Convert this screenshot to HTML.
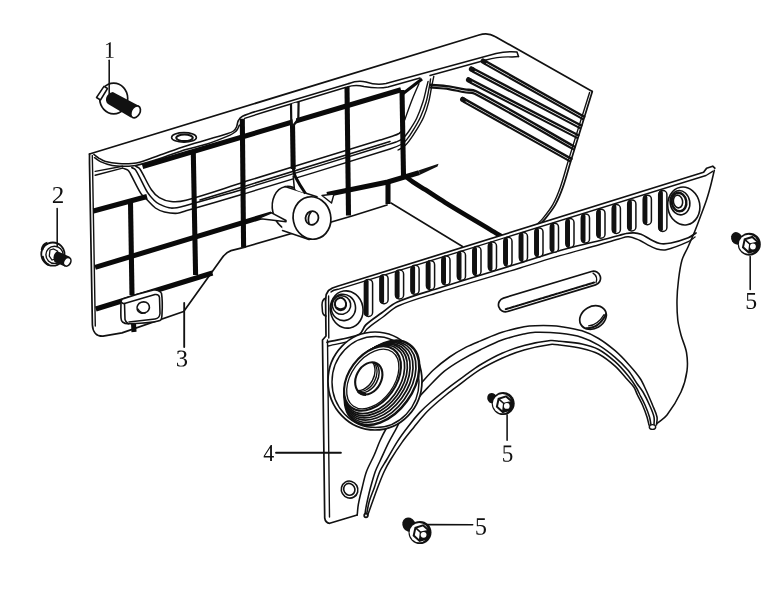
<!DOCTYPE html>
<html><head><meta charset="utf-8"><style>
html,body{margin:0;padding:0;background:#fff;}
svg{display:block;}
.t.w{fill:#fff;}
.t{fill:none;stroke:#111;stroke-linecap:round;stroke-linejoin:round;}
.k{fill:none;stroke:#0a0a0a;stroke-linecap:butt;stroke-linejoin:round;}
text{font-family:"Liberation Serif",serif;font-size:23px;fill:#111;}
</style></head><body>
<svg width="764" height="590" viewBox="0 0 764 590">
<rect width="764" height="590" fill="#fff"/>
<path d="M89.5,154.0 L479.0,35.0 L488.0,33.5 L495.0,36.5 L591.5,91.0 L586.0,118.0 L575.0,155.0 L565.0,181.0 L552.0,208.0 L540.0,235.0 L470.0,258.0 L387.0,205.0 L352.0,216.0 L246.0,246.8 L231.0,250.6 L221.8,258.2 L183.7,311.5 L103.0,336.0 L92.0,330.0 L91.6,325.0" fill="#fff" stroke="none"/>
<path d="M89.5,154 L479,35 C484,33.4 490,33.4 495,36.5 L591.5,91" class="t" style="stroke-width:1.71" />
<path d="M592.3,91.4 C588.7,103.1 585.1,114.7 581.5,126.4 C577.9,138.1 574.3,149.7 570.7,161.4 C568.1,169.9 566.0,178.5 563.0,186.9 C560.9,192.9 558.5,199.0 555.4,204.6 C552.6,209.6 548.9,214.1 545.3,218.6 C543.1,221.3 540.4,223.5 538.0,226.0" class="t" style="stroke-width:1.71" />
<path d="M589.6,92.5 C586.0,103.8 582.4,115.1 578.9,126.4 C575.3,138.1 571.7,149.7 568.1,161.4 C565.5,169.9 563.4,178.5 560.4,186.9 C558.3,192.9 555.9,199.0 552.8,204.6 C550.0,209.6 546.3,214.1 542.7,218.6 C540.5,221.3 537.8,223.5 535.4,226.0" class="t" style="stroke-width:1.4" />
<path d="M89.5,154 L89.5,163 L92.4,325 C92.8,332 96.5,336.5 103,336.2 L122,332.9 L183.7,311.5 L221.8,258.2 C224,255 226.5,252.3 231,250.6 L246,246.8 L352,216 L387,205" class="t" style="stroke-width:1.71" />
<path d="M92.3,155.5 L92.6,170 L95.3,326" class="t" style="stroke-width:1.4" />
<path d="M391,203 L462.5,246.5" class="t" style="stroke-width:1.55" />
<path d="M93.9,154.4 C95.6,155.7 97.3,157.2 99.1,158.3 C101.2,159.6 103.3,161.0 105.6,161.6 C109.8,162.7 114.3,163.3 118.7,163.6 C123.0,163.9 127.5,163.9 131.8,163.6 C134.5,163.4 137.2,163.1 139.7,162.3 C146.6,160.2 153.2,157.4 160.0,155.0 C168.7,152.0 177.3,148.8 186.0,146.0 C199.9,141.6 214.0,137.9 227.9,133.5 C229.8,132.9 231.9,132.2 233.5,131.0 C234.8,130.0 235.8,128.5 236.5,127.0 C237.4,125.0 237.3,122.4 238.4,120.5 C239.3,118.8 240.7,117.0 242.5,116.2 C249.9,112.9 258.1,110.8 266.0,108.4 C293.6,99.9 321.3,91.8 349.0,83.5" class="t" style="stroke-width:1.55" />
<path d="M349,83.5 C354,81.5 360,80.5 366,82 C372,84 379,85 386,83.5 L496,53.6 C505,51.5 512,51.5 517,52 L518.5,56.5" class="t" style="stroke-width:1.55" />
<path d="M94.5,157.7 C96.5,159.0 98.3,160.7 100.4,161.6 C104.2,163.3 108.2,164.8 112.2,165.5 C116.5,166.3 120.9,166.2 125.3,166.2 C128.8,166.2 132.3,166.2 135.7,165.5 C143.9,163.7 152.0,161.1 160.0,158.5 C168.7,155.7 177.2,152.2 186.0,149.5 C192.9,147.4 200.1,146.2 207.0,144.0 C214.8,141.4 222.5,138.3 230.0,135.1 C231.8,134.3 233.5,133.2 235.0,132.0 C235.9,131.3 236.7,130.4 237.3,129.5 C238.2,128.1 238.7,126.6 239.4,125.1" class="t" style="stroke-width:1.55" />
<path d="M244.6,118.3 L266,111.5 L347,87 C353,85 358,85 364,86.5 C372,88 380,88.5 388,87 L420,78" class="t" style="stroke-width:1.4" />
<path d="M430,75.5 L486,60 C495,57.5 505,56.5 512,57 L518.5,56.5" class="t" style="stroke-width:1.4" />
<path d="M95.2,171.4 L122.6,166.2" class="t" style="stroke-width:1.4" />
<path d="M95.2,175.3 L122.6,168.1" class="t" style="stroke-width:1.4" />
<path d="M122.6,168.1 C124.4,168.8 126.5,169.0 127.9,170.1 C129.1,171.0 129.7,172.6 130.5,174.0 C134.1,180.5 137.1,187.5 141.0,193.7 C142.3,195.8 144.5,197.2 146.2,198.9 C149.3,201.9 152.0,205.5 155.4,208.0 C158.1,209.9 161.3,211.2 164.5,212.0 C168.7,213.0 173.3,213.6 177.6,213.3 C180.5,213.1 183.2,211.5 186.0,210.7 C205.7,205.0 225.3,199.3 245.0,193.6" class="t" style="stroke-width:1.55" />
<path d="M131.8,167.5 C133.1,168.4 134.9,168.8 135.7,170.1 C140.1,177.1 143.2,185.2 147.5,192.4 C149.3,195.3 151.6,197.8 154.0,200.2 C155.5,201.7 157.3,203.2 159.3,204.1 C163.0,205.8 167.1,207.9 171.1,208.1 C176.0,208.3 181.1,206.7 186.0,205.4 C205.8,200.2 225.3,194.3 245.0,188.7" class="t" style="stroke-width:1.55" />
<path d="M135.7,166.2 C137.0,167.1 138.8,167.5 139.7,168.8 C144.1,175.3 146.9,183.2 151.4,189.7 C153.5,192.8 156.2,195.7 159.3,197.6 C162.8,199.7 167.1,201.1 171.1,201.5 C176.0,202.0 181.2,201.5 186.0,200.2 C205.8,194.9 225.3,187.9 245.0,181.8" class="t" style="stroke-width:1.55" />
<path d="M245.0,181.6 C290.0,167.7 335.0,153.9 380.0,140.0 C384.3,138.7 388.7,137.5 393.0,136.0 C395.0,135.3 397.1,134.6 399.0,133.5 C400.3,132.7 401.3,131.5 402.5,130.5" class="t" style="stroke-width:1.55" />
<path d="M200,200 L245,186.2 L390,141.5" class="t" style="stroke-width:1.55" />
<path d="M245.0,188.6 C291.7,174.2 338.3,159.9 385.0,145.5 C388.7,144.4 392.4,143.4 396.0,142.0 C398.3,141.1 400.8,140.2 402.7,138.6 C405.2,136.5 407.1,133.7 409.0,131.0 C411.8,126.9 414.6,122.7 416.7,118.3 C419.2,113.0 421.2,107.4 423.0,101.8 C424.6,96.8 425.5,91.6 426.8,86.5 C427.2,84.8 427.7,83.1 428.1,81.4" class="t" style="stroke-width:1.4" />
<path d="M245.0,193.6 C293.3,178.7 341.8,164.2 390.0,149.0 C393.8,147.8 397.6,146.4 401.0,144.5 C403.1,143.4 405.0,141.7 406.5,139.9 C409.1,136.8 411.4,133.2 413.5,129.7 C416.0,125.6 418.5,121.4 420.5,117.0 C422.7,112.1 424.7,107.0 426.2,101.8 C427.7,96.8 428.4,91.6 429.4,86.5 C429.9,84.0 430.2,81.4 430.6,78.9" class="t" style="stroke-width:1.4" />
<path d="M398.0,150.0 C400.0,148.8 402.2,147.9 404.0,146.5 C405.9,145.0 407.5,143.1 409.0,141.1 C411.8,137.5 414.3,133.6 416.7,129.7 C419.2,125.6 421.8,121.4 423.7,117.0 C425.8,112.1 427.4,107.0 428.7,101.8 C430.1,96.4 430.8,90.7 431.9,85.2 C432.5,82.3 433.2,79.3 433.8,76.4" class="t" style="stroke-width:1.4" />
<path d="M404.7,120.0 C407.1,113.3 409.4,106.6 412.0,100.0 C414.1,94.5 416.6,89.1 418.9,83.7" class="t" style="stroke-width:1.4" />
<path d="M401.5,94.7 L422,79" class="k" style="stroke-width:3.12" />
<ellipse cx="184" cy="137.4" rx="12.4" ry="4.8" class="t" style="stroke-width:1.59"/>
<ellipse cx="184.5" cy="137.8" rx="8.3" ry="3.3" class="t" style="stroke-width:2.1"/>
<path d="M142.5,166.5 L401,89.7" class="k" style="stroke-width:5.07" />
<path d="M93.5,211 L147,196.5" class="k" style="stroke-width:5.07" />
<path d="M95.1,267.4 L271.6,213.9" class="k" style="stroke-width:5.07" />
<path d="M327,194.5 L387.8,182 L419.2,172.6" class="k" style="stroke-width:5.07" />
<path d="M419,170.2 L438.5,163.8 L437.5,166.5 L419.5,175 Z" fill="#111"/>
<path d="M95.8,309 L212.5,273" class="k" style="stroke-width:5.07" />
<path d="M130.5,202.5 L132,295" class="k" style="stroke-width:5.07" />
<path d="M133.5,323 L134,332" class="k" style="stroke-width:5.07" />
<path d="M193.3,153 L195.6,275" class="k" style="stroke-width:5.07" />
<path d="M242.3,118.8 L243.6,247" class="k" style="stroke-width:5.07" />
<path d="M292.5,124 L293.2,169" class="k" style="stroke-width:5.07" />
<path d="M291.5,104 L296.5,102.5 L296,122 L293,126 Z" fill="#fff"/>
<path d="M291,104 L291.3,124 L292.6,126.5" fill="none" stroke="#111" stroke-width="2.2"/>
<path d="M298.6,102 L298.3,119 L293,126" fill="none" stroke="#111" stroke-width="2.2"/>
<path d="M347,87 L348.5,215.5" class="k" style="stroke-width:5.07" />
<path d="M388,180 L388,204" class="k" style="stroke-width:5.07" />
<path d="M402,90 L403.5,176" class="k" style="stroke-width:5.07" />
<path d="M403.5,174.9 C406.7,177.3 409.7,179.8 413.0,182.0 C417.1,184.8 421.4,187.2 425.5,189.8 C432.0,194.0 438.4,198.4 445.0,202.4 C459.9,211.6 475.0,220.4 490.0,229.4 C494.7,232.2 499.3,235.1 504.0,238.0" class="k" style="stroke-width:4.68" />
<path d="M483.0,59.7 L584.3,116.7" stroke="#111" stroke-width="2.4" fill="none" stroke-linecap="round"/>
<path d="M484.7,63.9 L582.9,119.2" stroke="#111" stroke-width="2.1" fill="none" stroke-linecap="round"/>
<ellipse cx="483.7" cy="61.5" rx="3.2" ry="2.6" transform="rotate(29.4 483.7 61.5)" fill="#111"/>
<path d="M471.2,67.5 L581.3,125.5" stroke="#111" stroke-width="2.4" fill="none" stroke-linecap="round"/>
<path d="M473.0,71.7 L580.0,128.1" stroke="#111" stroke-width="2.1" fill="none" stroke-linecap="round"/>
<ellipse cx="471.9" cy="69.4" rx="3.2" ry="2.6" transform="rotate(27.8 471.9 69.4)" fill="#111"/>
<path d="M468.3,78.3 L578.4,135.3" stroke="#111" stroke-width="2.4" fill="none" stroke-linecap="round"/>
<path d="M470.1,82.5 L577.1,137.9" stroke="#111" stroke-width="2.1" fill="none" stroke-linecap="round"/>
<ellipse cx="469.0" cy="80.2" rx="3.2" ry="2.6" transform="rotate(27.4 469.0 80.2)" fill="#111"/>
<path d="M430.0,84.8 C436.3,85.3 442.6,85.5 448.8,86.4 C454.1,87.1 459.3,88.5 464.6,89.4 C468.4,90.1 472.7,89.4 476.1,91.2 C509.7,108.6 542.3,128.5 575.4,147.2" stroke="#111" stroke-width="2.4" fill="none"/>
<path d="M430.0,87.4 C436.3,88.0 442.6,88.2 448.8,89.1 C454.1,89.9 459.3,91.4 464.6,92.3 C467.9,92.9 471.7,92.1 474.7,93.7 C508.2,111.3 540.9,131.0 574.0,149.7" stroke="#111" stroke-width="2.1" fill="none"/>
<path d="M462.4,97.9 L571.5,158.9" stroke="#111" stroke-width="2.4" fill="none" stroke-linecap="round"/>
<path d="M464.1,102.1 L570.1,161.4" stroke="#111" stroke-width="2.1" fill="none" stroke-linecap="round"/>
<ellipse cx="463.1" cy="99.7" rx="3.2" ry="2.6" transform="rotate(29.2 463.1 99.7)" fill="#111"/>
<ellipse cx="289.5" cy="208.5" rx="17" ry="22.3" transform="rotate(-12 289.5 208.5)" class="t w" style="stroke-width:1.6"/>
<path d="M286,186.5 L318,196.5 L312,240 L282,230.5 Z" fill="#fff" stroke="none"/>
<path d="M285,186.6 L317,196.8" class="t" style="stroke-width:1.55" />
<path d="M282.5,230.5 L309,239.6" class="t" style="stroke-width:1.55" />
<ellipse cx="312" cy="218" rx="18.8" ry="21.3" transform="rotate(-12 312 218)" class="t w" style="stroke-width:1.7"/>
<ellipse cx="312" cy="218" rx="6.4" ry="6.9" transform="rotate(25 312 218)" class="t w" style="stroke-width:1.8"/>
<path d="M309,223.5 Q307,217 311,212" class="t" style="stroke-width:1.74"/>
<path d="M292.5,160 C293,168 294,174 295,176 C297,180 301,187 305.5,193.5 L296,190 L294.5,187.5 Z" fill="#fff"/>
<path d="M293,165 C293.5,170 294,174 295.5,177 C297.5,181 301,187 305.5,193.5" class="k" style="stroke-width:2.92" />
<path d="M293.2,176 L294.3,188" class="t" style="stroke-width:1.55" />
<path d="M258.6,218.4 L271.6,212.8 L286,220.5 L286,221.8 Z" class="t w" style="stroke-width:1.5"/>
<path d="M322,195.5 L334,194 L331.5,203 Z" class="t w" style="stroke-width:1.4"/>
<path d="M121.0,301.5 C121.5,300.7 121.6,299.3 122.5,299.0 C132.5,295.5 143.2,292.5 153.6,290.0 C155.0,289.7 156.7,289.9 158.0,290.5 C159.3,291.1 161.3,292.1 161.5,293.5 C162.6,299.9 162.4,307.2 162.0,314.0 C161.9,316.2 162.0,319.8 160.0,320.4 C150.8,323.1 138.9,323.4 128.4,323.8 C126.4,323.9 124.0,323.1 122.5,322.0 C121.5,321.2 121.1,319.4 121.0,318.0 C120.6,312.6 121.0,307.0 121.0,301.5" class="t w" style="stroke-width:1.6"/>
<path d="M124.5,303.5 L155,294.5 Q159,294 159.5,297.5 L160,313.5 Q159.5,318.5 155,319 L129,322" class="t" style="stroke-width:1.55" />
<path d="M121.2,302 Q123,304 124.5,303.5 L125,319.5 Q125.5,322 128.4,323.8" class="t" style="stroke-width:1.55" />
<ellipse cx="143.2" cy="307.6" rx="6.3" ry="5.6" transform="rotate(-20 143.2 307.6)" class="t w" style="stroke-width:1.6"/>
<path d="M138,309 Q140,313 145,313" class="t" style="stroke-width:1.4"/>
<path d="M184.2,303 L184.2,347" class="t" style="stroke-width:1.86" />
<path d="M325.6,300.0 L326.2,294.5 L328.5,290.5 L332.5,288.0 L337.5,286.3 L703.6,172.3 L706.6,168.2 L712.7,166.2 L714.8,168.2 L714.3,170.3 L710.7,185.5 L706.5,200.0 L701.0,215.0 L694.5,232.0 L688.0,247.0 L682.0,260.0 L678.5,280.0 L677.0,300.0 L677.8,320.0 L681.0,335.0 L686.5,352.5 L687.0,370.8 L681.0,392.0 L667.0,415.0 L657.0,423.5 L656.5,425.0 L657.0,417.0 L652.5,405.0 L646.0,390.0 L640.0,378.2 L628.3,363.9 L615.1,350.7 L598.6,338.5 L582.0,330.8 L560.0,326.4 L551.6,325.7 L535.1,325.7 L524.1,326.8 L502.0,332.3 L480.0,341.1 L466.1,347.1 L449.6,357.0 L433.1,370.3 L420.9,383.5 L410.0,395.0 L398.0,410.0 L386.5,428.0 L379.9,441.0 L374.2,455.0 L366.5,471.5 L362.1,488.0 L358.3,504.6 L357.2,515.0 L357.0,514.5 L329.7,523.3 L324.7,518.0 L322.0,340.0 L326.0,336.0" fill="#fff" stroke="none"/>
<path d="M325.6,300.0 L326.2,294.5 L328.5,290.5 L332.5,288.0 L337.5,286.3 L703.6,172.3 L706.6,168.2 L712.7,166.2 L714.8,168.2" class="t" style="stroke-width:1.71" />
<path d="M331,292 Q333,290 338,289.3 L706,175.5 L712.7,171.3" class="t" style="stroke-width:1.4" />
<path d="M714.3,170.3 C713.1,175.4 712.0,180.5 710.7,185.5 C709.4,190.4 708.1,195.2 706.5,200.0 C704.8,205.1 702.9,210.0 701.0,215.0 C698.9,220.7 696.8,226.4 694.5,232.0 C692.4,237.0 690.2,242.0 688.0,247.0 C686.1,251.4 683.3,255.5 682.0,260.0 C680.1,266.5 679.3,273.3 678.5,280.0 C677.7,286.6 677.1,293.3 677.0,300.0 C676.9,306.7 677.0,313.4 677.8,320.0 C678.4,325.1 679.7,330.1 681.0,335.0 C682.6,340.9 685.5,346.5 686.5,352.5 C687.5,358.5 687.8,364.8 687.0,370.8 C686.0,378.0 684.0,385.4 681.0,392.0 C677.3,400.1 672.4,407.9 667.0,415.0 C664.4,418.4 660.3,420.7 657.0,423.5" class="t" style="stroke-width:1.55" />
<path d="M325.6,300 L326,336 L322.5,340 L324.7,518 Q325.5,523 329.7,523.3 L357.2,515" class="t" style="stroke-width:1.71" />
<path d="M327.5,340 L329.5,517" class="t" style="stroke-width:1.4" />
<path d="M325.8,298 Q322,299.5 322,305 L322.5,312 Q323,315.5 326,316" class="t" style="stroke-width:1.55" />
<path d="M328.6,296 L328.8,338" class="t" style="stroke-width:1.4" />
<path d="M357.2,515.0 C357.6,511.5 357.7,508.0 358.3,504.6 C359.3,499.0 360.7,493.5 362.1,488.0 C363.5,482.5 364.5,476.8 366.5,471.5 C368.6,465.8 371.8,460.6 374.2,455.0 C376.2,450.4 377.8,445.6 379.9,441.0 C381.9,436.6 384.1,432.2 386.5,428.0 C390.1,421.9 393.9,415.8 398.0,410.0 C401.7,404.8 405.8,399.8 410.0,395.0 C413.5,391.0 417.3,387.4 420.9,383.5 C425.0,379.1 428.7,374.4 433.1,370.3 C438.3,365.5 443.8,361.1 449.6,357.0 C454.8,353.3 460.4,350.1 466.1,347.1 C470.6,344.8 475.3,343.0 480.0,341.1 C487.3,338.1 494.5,334.7 502.0,332.3 C509.2,330.0 516.7,328.3 524.1,326.8 C527.7,326.1 531.4,325.8 535.1,325.7 C540.6,325.5 546.1,325.5 551.6,325.7 C554.4,325.8 557.2,325.9 560.0,326.4 C567.4,327.6 574.9,328.6 582.0,330.8 C587.8,332.6 593.4,335.4 598.6,338.5 C604.4,342.0 609.9,346.3 615.1,350.7 C619.8,354.7 624.1,359.3 628.3,363.9 C632.4,368.5 636.6,373.1 640.0,378.2 C642.5,381.8 644.1,386.0 646.0,390.0 C648.3,394.9 650.4,400.0 652.5,405.0 C654.1,409.0 656.2,412.9 657.0,417.0 C657.5,419.6 656.7,422.3 656.5,425.0" class="t" style="stroke-width:1.55" />
<path d="M364.9,514.5 C365.4,511.2 365.8,507.9 366.5,504.6 C367.7,499.0 368.9,493.5 370.4,488.0 C371.9,482.5 373.4,476.9 375.3,471.5 C376.7,467.6 378.8,463.8 380.5,460.0 C382.9,454.9 385.1,449.7 387.6,444.6 C390.0,439.8 392.7,435.1 395.3,430.3 C397.5,426.2 399.3,421.9 402.0,418.1 C406.4,411.8 411.5,405.9 416.5,400.0 C420.0,395.8 423.7,391.8 427.5,387.9 C432.9,382.3 438.1,376.4 444.1,371.4 C449.2,367.2 454.9,363.7 460.6,360.3 C466.9,356.6 473.4,353.2 480.0,350.0 C487.2,346.5 494.5,342.7 502.0,340.0 C509.2,337.4 516.7,335.7 524.1,334.0 C527.7,333.2 531.4,332.4 535.1,332.3 C543.4,332.1 551.8,332.4 560.0,333.3 C567.4,334.1 574.9,335.2 582.0,337.4 C587.8,339.2 593.4,342.0 598.6,345.1 C604.4,348.6 609.9,352.9 615.1,357.3 C619.8,361.3 624.3,365.7 628.3,370.5 C631.7,374.5 634.1,379.3 637.1,383.7 C639.0,386.5 641.3,389.1 643.0,392.0 C645.4,396.2 647.6,400.6 649.5,405.0 C651.2,408.9 653.1,412.9 654.0,417.0 C654.6,419.6 654.0,422.3 654.0,425.0" class="t" style="stroke-width:1.55" />
<path d="M366.5,515.0 C367.4,510.4 368.0,505.8 369.3,501.3 C370.6,496.8 372.6,492.5 374.2,488.0 C376.1,482.5 377.5,476.8 379.8,471.5 C381.6,467.5 384.3,463.8 386.5,460.0 C390.2,453.8 393.6,447.4 397.5,441.3 C400.9,436.0 404.7,430.9 408.6,425.9 C412.1,421.3 415.7,416.8 419.6,412.6 C423.3,408.7 427.4,405.0 431.5,401.5 C437.4,396.4 443.5,391.6 449.6,386.8 C455.0,382.6 460.6,378.7 466.1,374.7 C470.7,371.4 475.2,367.9 480.0,365.0 C487.1,360.8 494.4,356.6 502.0,353.3 C509.1,350.1 516.6,347.5 524.1,345.5 C532.7,343.2 541.7,341.6 550.5,340.6 C553.6,340.2 556.8,341.0 560.0,341.3 C567.3,342.1 574.8,342.5 582.0,344.0 C587.7,345.2 593.5,346.8 598.6,349.5 C604.6,352.7 610.0,357.2 615.1,361.7 C619.9,366.0 624.2,371.0 628.3,376.0 C631.1,379.4 633.7,383.2 636.0,387.0 C637.6,389.5 638.7,392.3 640.0,395.0 C641.7,398.3 643.5,401.6 645.0,405.0 C646.7,408.9 648.3,412.9 649.5,417.0 C650.3,419.6 650.5,422.3 651.0,425.0" class="t" style="stroke-width:1.55" />
<path d="M367.6,515.6 C368.9,511.9 370.2,508.3 371.5,504.6 C373.5,499.1 375.4,493.5 377.5,488.0 C379.6,482.5 381.7,476.9 384.2,471.5 C386.0,467.6 388.1,463.7 390.4,460.0 C394.1,454.0 397.9,448.1 402.0,442.4 C405.8,437.1 410.0,432.1 414.1,427.0 C417.7,422.5 421.2,417.9 425.1,413.7 C428.8,409.7 432.9,406.1 437.0,402.5 C439.9,399.9 443.0,397.5 446.0,395.0 C449.0,392.6 452.0,390.2 455.1,387.9 C463.3,381.8 471.3,375.2 480.0,369.7 C487.0,365.3 494.5,361.6 502.0,358.2 C509.2,355.0 516.6,352.1 524.1,350.0 C532.7,347.5 541.7,345.6 550.5,344.4 C553.6,344.0 556.9,344.7 560.0,345.1 C567.4,346.0 574.8,346.7 582.0,348.4 C587.7,349.7 593.5,351.3 598.6,354.0 C604.5,357.2 610.0,361.6 615.1,366.1 C619.2,369.7 622.5,374.1 626.1,378.2 C628.7,381.1 631.6,383.8 633.8,387.0 C635.4,389.4 636.2,392.4 637.5,395.0 C639.1,398.4 641.0,401.6 642.5,405.0 C644.2,408.9 645.7,412.9 647.0,417.0 C647.8,419.6 648.3,422.3 649.0,425.0" class="t" style="stroke-width:1.55" />
<ellipse cx="652.5" cy="427" rx="3.2" ry="2.4" class="t w" style="stroke-width:1.4"/>
<circle cx="366" cy="515.5" r="1.8" class="t w" style="stroke-width:1.74"/>
<path d="M327.0,342.3 C337.8,339.6 349.7,338.5 359.4,334.2 C362.6,332.8 363.0,327.5 365.7,325.0 C370.4,320.5 376.2,316.9 381.5,313.0 C386.7,309.2 391.5,304.5 397.3,302.0 C411.0,296.1 425.7,292.3 440.0,287.8 C466.6,279.3 493.3,271.3 520.0,263.0 C533.3,258.9 546.6,254.3 560.0,250.5 C573.2,246.8 586.7,243.9 600.0,240.5 C606.3,238.9 612.6,237.2 618.9,235.5 C621.3,234.9 623.6,233.9 626.0,233.5 C628.6,233.0 631.4,232.7 634.0,232.8 C636.4,232.9 638.8,233.4 641.0,234.3 C644.3,235.6 647.3,237.8 650.5,239.4 C653.6,240.9 656.6,242.9 659.9,243.5 C663.5,244.1 667.4,243.7 671.0,243.0 C676.9,241.8 682.8,240.0 688.3,237.8 C691.1,236.7 693.4,234.6 696.0,233.0" class="t" style="stroke-width:1.71" />
<path d="M328.0,346.0 C338.7,343.3 350.3,342.2 360.0,338.0 C363.3,336.5 364.2,331.5 367.0,329.0 C371.9,324.5 377.6,321.0 383.0,317.0 C388.0,313.3 392.4,308.5 398.0,306.0 C411.4,300.1 425.9,296.4 440.0,292.0 C466.6,283.7 493.4,276.1 520.0,268.0 C533.4,264.0 546.6,259.6 560.0,255.7 C573.3,251.8 586.7,248.3 600.0,244.5 C606.3,242.7 612.6,240.7 618.9,239.0 C622.0,238.2 625.2,236.6 628.3,236.8 C632.2,237.1 636.2,239.0 640.0,240.5 C642.6,241.6 644.8,243.3 647.3,244.6 C650.4,246.2 653.5,248.1 656.8,249.0 C659.8,249.8 663.2,250.5 666.2,249.8 C673.7,248.1 681.2,244.9 688.3,241.7 C690.8,240.6 692.8,238.6 695.0,237.0" class="t" style="stroke-width:1.4" />
<rect x="364.4" y="279.4" width="8.2" height="37.0" rx="4" fill="#fff" stroke="#111" stroke-width="1.5"/>
<path d="M366.5,281.6 L366.5,314.2" stroke="#111" stroke-width="4.2" stroke-linecap="round" fill="none"/>
<rect x="379.9" y="274.7" width="8.2" height="29.0" rx="4" fill="#fff" stroke="#111" stroke-width="1.5"/>
<path d="M382.0,276.9 L382.0,301.5" stroke="#111" stroke-width="4.2" stroke-linecap="round" fill="none"/>
<rect x="395.4" y="270.0" width="8.2" height="29.0" rx="4" fill="#fff" stroke="#111" stroke-width="1.5"/>
<path d="M397.5,272.2 L397.5,296.8" stroke="#111" stroke-width="4.2" stroke-linecap="round" fill="none"/>
<rect x="410.9" y="265.3" width="8.2" height="29.0" rx="4" fill="#fff" stroke="#111" stroke-width="1.5"/>
<path d="M413.0,267.5 L413.0,292.1" stroke="#111" stroke-width="4.2" stroke-linecap="round" fill="none"/>
<rect x="426.4" y="260.7" width="8.2" height="29.0" rx="4" fill="#fff" stroke="#111" stroke-width="1.5"/>
<path d="M428.5,262.9 L428.5,287.5" stroke="#111" stroke-width="4.2" stroke-linecap="round" fill="none"/>
<rect x="441.8" y="256.0" width="8.2" height="29.0" rx="4" fill="#fff" stroke="#111" stroke-width="1.5"/>
<path d="M443.9,258.2 L443.9,282.8" stroke="#111" stroke-width="4.2" stroke-linecap="round" fill="none"/>
<rect x="457.3" y="251.3" width="8.2" height="29.0" rx="4" fill="#fff" stroke="#111" stroke-width="1.5"/>
<path d="M459.4,253.5 L459.4,278.1" stroke="#111" stroke-width="4.2" stroke-linecap="round" fill="none"/>
<rect x="472.8" y="246.6" width="8.2" height="29.0" rx="4" fill="#fff" stroke="#111" stroke-width="1.5"/>
<path d="M474.9,248.8 L474.9,273.4" stroke="#111" stroke-width="4.2" stroke-linecap="round" fill="none"/>
<rect x="488.3" y="242.0" width="8.2" height="29.0" rx="4" fill="#fff" stroke="#111" stroke-width="1.5"/>
<path d="M490.4,244.2 L490.4,268.8" stroke="#111" stroke-width="4.2" stroke-linecap="round" fill="none"/>
<rect x="503.8" y="237.3" width="8.2" height="29.0" rx="4" fill="#fff" stroke="#111" stroke-width="1.5"/>
<path d="M505.9,239.5 L505.9,264.1" stroke="#111" stroke-width="4.2" stroke-linecap="round" fill="none"/>
<rect x="519.3" y="232.6" width="8.2" height="29.0" rx="4" fill="#fff" stroke="#111" stroke-width="1.5"/>
<path d="M521.4,234.8 L521.4,259.4" stroke="#111" stroke-width="4.2" stroke-linecap="round" fill="none"/>
<rect x="534.8" y="227.9" width="8.2" height="29.0" rx="4" fill="#fff" stroke="#111" stroke-width="1.5"/>
<path d="M536.9,230.1 L536.9,254.7" stroke="#111" stroke-width="4.2" stroke-linecap="round" fill="none"/>
<rect x="550.3" y="223.2" width="8.2" height="29.0" rx="4" fill="#fff" stroke="#111" stroke-width="1.5"/>
<path d="M552.4,225.4 L552.4,250.0" stroke="#111" stroke-width="4.2" stroke-linecap="round" fill="none"/>
<rect x="565.8" y="218.6" width="8.2" height="29.0" rx="4" fill="#fff" stroke="#111" stroke-width="1.5"/>
<path d="M567.9,220.8 L567.9,245.4" stroke="#111" stroke-width="4.2" stroke-linecap="round" fill="none"/>
<rect x="581.3" y="213.9" width="8.2" height="29.0" rx="4" fill="#fff" stroke="#111" stroke-width="1.5"/>
<path d="M583.4,216.1 L583.4,240.7" stroke="#111" stroke-width="4.2" stroke-linecap="round" fill="none"/>
<rect x="596.8" y="209.2" width="8.2" height="29.0" rx="4" fill="#fff" stroke="#111" stroke-width="1.5"/>
<path d="M598.8,211.4 L598.8,236.0" stroke="#111" stroke-width="4.2" stroke-linecap="round" fill="none"/>
<rect x="612.2" y="204.5" width="8.2" height="29.0" rx="4" fill="#fff" stroke="#111" stroke-width="1.5"/>
<path d="M614.3,206.7 L614.3,231.3" stroke="#111" stroke-width="4.2" stroke-linecap="round" fill="none"/>
<rect x="627.7" y="199.9" width="8.2" height="31.0" rx="4" fill="#fff" stroke="#111" stroke-width="1.5"/>
<path d="M629.8,202.1 L629.8,228.7" stroke="#111" stroke-width="4.2" stroke-linecap="round" fill="none"/>
<rect x="643.2" y="195.2" width="8.2" height="29.5" rx="4" fill="#fff" stroke="#111" stroke-width="1.5"/>
<path d="M645.3,197.4 L645.3,222.5" stroke="#111" stroke-width="4.2" stroke-linecap="round" fill="none"/>
<rect x="658.7" y="190.5" width="8.2" height="41.0" rx="4" fill="#fff" stroke="#111" stroke-width="1.5"/>
<path d="M660.8,192.7 L660.8,229.3" stroke="#111" stroke-width="4.2" stroke-linecap="round" fill="none"/>
<ellipse cx="346.7" cy="309.5" rx="16.3" ry="18.7" transform="rotate(-10 346.7 309.5)" class="t w" style="stroke-width:1.59"/>
<ellipse cx="343.3" cy="307.4" rx="12.2" ry="13.2" transform="rotate(-10 343.3 307.4)" class="t w" style="stroke-width:1.59"/>
<ellipse cx="341.5" cy="305.0" rx="9.2" ry="9.3" transform="rotate(-10 341.5 305.0)" class="t w" style="stroke-width:1.59"/>
<ellipse cx="340.5" cy="304" rx="5.6" ry="6.2" transform="rotate(-10 340.5 304)" fill="#fff" stroke="#111" stroke-width="2.0"/>
<path d="M337,307.5 Q340,310.5 344,308" fill="none" stroke="#111" stroke-width="1.6"/>
<ellipse cx="683.8" cy="206.0" rx="16.0" ry="19.0" transform="rotate(-10 683.8 206.0)" class="t w" style="stroke-width:1.59"/>
<ellipse cx="680.0" cy="202.7" rx="9.8" ry="12.2" transform="rotate(-10 680.0 202.7)" class="t w" style="stroke-width:1.59"/>
<ellipse cx="679" cy="202" rx="7.3" ry="9.3" transform="rotate(-10 679 202)" fill="#fff" stroke="#111" stroke-width="2.4"/>
<ellipse cx="678.0" cy="201.5" rx="4.6" ry="6.4" transform="rotate(-10 678.0 201.5)" class="t w" style="stroke-width:1.59"/>
<ellipse cx="349.6" cy="489.6" rx="8.2" ry="8.6" transform="rotate(-30 349.6 489.6)" class="t w" style="stroke-width:1.59"/>
<ellipse cx="349.3" cy="489.3" rx="5.5" ry="6.0" transform="rotate(-30 349.3 489.3)" class="t w" style="stroke-width:1.59"/>
<g transform="translate(549.5,291.5) rotate(-16.8)"><rect x="-53" y="-7" width="106" height="14" rx="7" class="t w" style="stroke-width:1.7"/><path d="M-47,4.3 L46,4.3" class="t" style="stroke-width:2.0;stroke-dasharray:2.2 0.8"/><path d="M47,-5 Q51,0 47,5" class="t" style="stroke-width:1.3"/></g>
<g transform="translate(593,317.5) rotate(-30)"><ellipse rx="14" ry="11" class="t w" style="stroke-width:1.7"/><path d="M-11,6 Q0,12.5 13,3.5" class="t" style="stroke-width:2.0"/><path d="M-8,5 Q0,9 11,3" class="t" style="stroke-width:1.2"/></g>
<ellipse cx="375" cy="381" rx="47" ry="49" class="t w" style="stroke-width:1.74"/>
<ellipse cx="375.5" cy="382" rx="43.5" ry="45.5" class="t w" style="stroke-width:1.45"/>
<ellipse cx="382.0" cy="382.8" rx="30.9" ry="47.0" transform="rotate(36 382.0 382.8)" class="t w" style="stroke-width:2.40"/>
<ellipse cx="380.3" cy="382.0" rx="29.6" ry="45.0" transform="rotate(36 380.3 382.0)" class="t w" style="stroke-width:1.70"/>
<ellipse cx="378.8" cy="381.3" rx="28.4" ry="43.2" transform="rotate(36 378.8 381.3)" class="t w" style="stroke-width:1.70"/>
<ellipse cx="377.2" cy="380.6" rx="27.3" ry="41.5" transform="rotate(36 377.2 380.6)" class="t w" style="stroke-width:1.70"/>
<ellipse cx="375.8" cy="380.0" rx="26.2" ry="39.8" transform="rotate(36 375.8 380.0)" class="t w" style="stroke-width:1.70"/>
<ellipse cx="374.4" cy="379.4" rx="25.1" ry="38.1" transform="rotate(36 374.4 379.4)" class="t w" style="stroke-width:1.70"/>
<ellipse cx="372.5" cy="378.5" rx="23.6" ry="35.9" transform="rotate(36 372.5 378.5)" class="t w" style="stroke-width:2.1"/>
<ellipse cx="372.8" cy="379.0" rx="21.3" ry="33.4" transform="rotate(36 372.8 379.0)" class="t" style="stroke-width:1.3"/>
<defs><clipPath id="holeclip"><ellipse cx="368.8" cy="378.4" rx="12.5" ry="17" transform="rotate(28 368.8 378.4)"/></clipPath></defs>
<ellipse cx="368.8" cy="378.4" rx="12.5" ry="17" transform="rotate(28 368.8 378.4)" fill="#fff"/>
<g clip-path="url(#holeclip)">
<ellipse cx="365.5" cy="376.6" rx="12.5" ry="17" transform="rotate(28 365.5 376.6)" fill="none" stroke="#111" stroke-width="1.5"/>
<ellipse cx="363.4" cy="375.5" rx="12.5" ry="17" transform="rotate(28 363.4 375.5)" fill="none" stroke="#111" stroke-width="1.3"/>
<ellipse cx="361.4" cy="374.5" rx="12.5" ry="17" transform="rotate(28 361.4 374.5)" fill="none" stroke="#111" stroke-width="1.4"/>
</g>
<ellipse cx="368.8" cy="378.4" rx="12.5" ry="17" transform="rotate(28 368.8 378.4)" fill="none" stroke="#111" stroke-width="2.1"/>
<path d="M358,391 Q361,394.5 366,394.5" fill="none" stroke="#111" stroke-width="3"/>
<path d="M276,452.8 L340.9,452.8" class="t" style="stroke-width:1.86" />
<ellipse cx="113.7" cy="98.5" rx="14" ry="15.3" class="t w" style="stroke-width:1.7"/>
<path d="M96.5,97.5 L104,86.3 L107.5,88.5 L100.5,100 Z" class="t w" style="stroke-width:1.5"/>
<path d="M112.8,91.9 L140.3,106.4 L130.8,117.4 L108,104 C104,101 106,93 112.8,91.9 Z" fill="#111"/>
<ellipse cx="135.6" cy="111.9" rx="4.3" ry="6.4" transform="rotate(28 135.6 111.9)" fill="#fff" stroke="#111" stroke-width="1.7"/>
<path d="M109.2,60.2 L109.2,94" class="t" style="stroke-width:1.55" />
<circle cx="52.9" cy="254.1" r="11.6" fill="#fff" stroke="#111" stroke-width="1.8"/>
<path d="M42,250 Q43,244 47.5,243" stroke="#111" stroke-width="2.6" fill="none"/>
<path d="M42.5,256 Q44,263 49,265" stroke="#111" stroke-width="2.2" fill="none"/>
<circle cx="54.5" cy="254.8" r="8.6" fill="#fff" stroke="#111" stroke-width="1.4"/>
<path d="M50,250 L53.5,249 L57.5,251 L56.5,258.5 L52,260 L49.3,256 Z" fill="#fff" stroke="#111" stroke-width="1.3"/>
<path d="M57.5,251.2 L69.7,256.7 L64.8,266.5 L54.5,262 C52.5,258 53.5,253 57.5,251.2 Z" fill="#111"/>
<ellipse cx="67.2" cy="261.8" rx="3.4" ry="4.6" transform="rotate(30 67.2 261.8)" fill="#fff" stroke="#111" stroke-width="1.6"/>
<path d="M57.2,208.6 L57.2,246.7" class="t" style="stroke-width:1.55" />
<g transform="translate(749.3,243.9)">
<ellipse cx="-12.5" cy="-5.5" rx="5.5" ry="6.5" transform="rotate(-30 -12.5 -5.5)" fill="#111"/>
<path d="M-13.5,-7.5 L-6,-8 L-3,6 Z" fill="#111"/>
<circle cx="0" cy="0.3" r="11.5" fill="#111"/>
<circle cx="-0.8" cy="0.4" r="9.6" fill="#fff"/>
<path d="M3.0,-6.9 L8.9,-1.6 L7.2,6.3 L-0.4,8.7 L-6.3,3.4 L-4.6,-4.5 Z" fill="#fff" stroke="#111" stroke-width="2.0"/>
<path d="M0.6,0.2 L8.9,-1.6 L7.2,6.3 L-0.4,8.7 Z" fill="#111"/>
<path d="M-4.6,-4.5 L0.6,0.2 L8.9,-1.6 M0.6,0.2 L-0.4,8.7" fill="none" stroke="#111" stroke-width="1.6"/>
<circle cx="3.6" cy="2.6" r="2.9" fill="#fff"/>
</g>
<g transform="translate(503.2,403.3)">
<ellipse cx="-11.0" cy="-5.0" rx="4.8" ry="5.5" transform="rotate(-30 -11.0 -5.0)" fill="#111"/>
<path d="M-12.0,-7.0 L-6,-8 L-3,6 Z" fill="#111"/>
<circle cx="0" cy="0.3" r="11.5" fill="#111"/>
<circle cx="-0.8" cy="0.4" r="9.6" fill="#fff"/>
<path d="M3.0,-6.9 L8.9,-1.6 L7.2,6.3 L-0.4,8.7 L-6.3,3.4 L-4.6,-4.5 Z" fill="#fff" stroke="#111" stroke-width="2.0"/>
<path d="M0.6,0.2 L8.9,-1.6 L7.2,6.3 L-0.4,8.7 Z" fill="#111"/>
<path d="M-4.6,-4.5 L0.6,0.2 L8.9,-1.6 M0.6,0.2 L-0.4,8.7" fill="none" stroke="#111" stroke-width="1.6"/>
<circle cx="3.6" cy="2.6" r="2.9" fill="#fff"/>
</g>
<path d="M750.2,256.4 L750.2,289.5" class="t" style="stroke-width:1.55" />
<path d="M507.1,415 L507.1,440.2" class="t" style="stroke-width:1.55" />
<g transform="translate(420.0,532.2)">
<ellipse cx="-11.0" cy="-7.5" rx="6.5" ry="7.5" transform="rotate(-30 -11.0 -7.5)" fill="#111"/>
<path d="M-12.0,-9.5 L-6,-8 L-3,6 Z" fill="#111"/>
<circle cx="0" cy="0.3" r="11.5" fill="#111"/>
<circle cx="-0.8" cy="0.4" r="9.6" fill="#fff"/>
<path d="M3.0,-6.9 L8.9,-1.6 L7.2,6.3 L-0.4,8.7 L-6.3,3.4 L-4.6,-4.5 Z" fill="#fff" stroke="#111" stroke-width="2.0"/>
<path d="M0.6,0.2 L8.9,-1.6 L7.2,6.3 L-0.4,8.7 Z" fill="#111"/>
<path d="M-4.6,-4.5 L0.6,0.2 L8.9,-1.6 M0.6,0.2 L-0.4,8.7" fill="none" stroke="#111" stroke-width="1.6"/>
<circle cx="3.6" cy="2.6" r="2.9" fill="#fff"/>
</g>
<path d="M426.4,524.6 L472.7,524.7" class="t" style="stroke-width:1.55" />
<path d="M627 80 901 53V0H180V53L455 80V1174L184 1077V1130L575 1352H627Z" transform="matrix(0.01082 0 0 -0.01154 103.95 57.80)" fill="#111"/>
<path d="M911 0H90V147L276 316Q455 473 539.0 570.0Q623 667 659.5 770.0Q696 873 696 1006Q696 1136 637.0 1204.0Q578 1272 444 1272Q391 1272 335.0 1257.5Q279 1243 236 1219L201 1055H135V1313Q317 1356 444 1356Q664 1356 774.5 1264.5Q885 1173 885 1006Q885 894 841.5 794.5Q798 695 708.0 596.5Q618 498 410 321Q321 245 221 154H911Z" transform="matrix(0.01218 0 0 -0.01195 51.80 203.10)" fill="#111"/>
<path d="M944 365Q944 184 820.0 82.0Q696 -20 469 -20Q279 -20 109 23L98 305H164L209 117Q248 95 319.5 79.0Q391 63 453 63Q610 63 685.0 135.0Q760 207 760 375Q760 507 691.0 575.5Q622 644 477 651L334 659V741L477 750Q590 756 644.0 820.0Q698 884 698 1014Q698 1149 639.5 1210.5Q581 1272 453 1272Q400 1272 342.0 1257.5Q284 1243 240 1219L205 1055H139V1313Q238 1339 310.0 1347.5Q382 1356 453 1356Q883 1356 883 1026Q883 887 806.5 804.5Q730 722 590 702Q772 681 858.0 597.5Q944 514 944 365Z" transform="matrix(0.01194 0 0 -0.01170 175.83 366.37)" fill="#111"/>
<path d="M810 295V0H638V295H40V428L695 1348H810V438H992V295ZM638 1113H633L153 438H638Z" transform="matrix(0.01071 0 0 -0.01187 263.27 461.10)" fill="#111"/>
<path d="M485 784Q717 784 830.5 689.0Q944 594 944 399Q944 197 821.0 88.5Q698 -20 469 -20Q279 -20 130 23L119 305H185L230 117Q274 93 335.5 78.0Q397 63 453 63Q611 63 685.5 137.5Q760 212 760 389Q760 513 728.0 576.5Q696 640 626.0 670.0Q556 700 438 700Q347 700 260 676H164V1341H844V1188H254V760Q362 784 485 784Z" transform="matrix(0.01164 0 0 -0.01183 745.22 308.76)" fill="#111"/>
<path d="M485 784Q717 784 830.5 689.0Q944 594 944 399Q944 197 821.0 88.5Q698 -20 469 -20Q279 -20 130 23L119 305H185L230 117Q274 93 335.5 78.0Q397 63 453 63Q611 63 685.5 137.5Q760 212 760 389Q760 513 728.0 576.5Q696 640 626.0 670.0Q556 700 438 700Q347 700 260 676H164V1341H844V1188H254V760Q362 784 485 784Z" transform="matrix(0.01127 0 0 -0.01198 501.76 461.56)" fill="#111"/>
<path d="M485 784Q717 784 830.5 689.0Q944 594 944 399Q944 197 821.0 88.5Q698 -20 469 -20Q279 -20 130 23L119 305H185L230 117Q274 93 335.5 78.0Q397 63 453 63Q611 63 685.5 137.5Q760 212 760 389Q760 513 728.0 576.5Q696 640 626.0 670.0Q556 700 438 700Q347 700 260 676H164V1341H844V1188H254V760Q362 784 485 784Z" transform="matrix(0.01176 0 0 -0.01220 474.90 534.56)" fill="#111"/>
</svg></body></html>
